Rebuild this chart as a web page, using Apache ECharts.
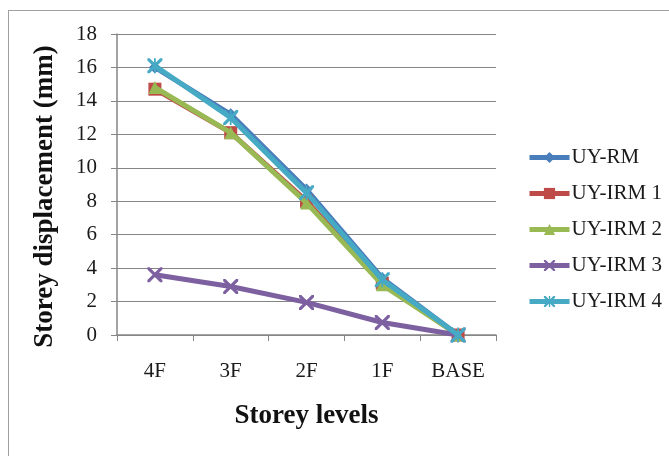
<!DOCTYPE html>
<html><head><meta charset="utf-8">
<script src="https://cdn.jsdelivr.net/npm/echarts@6/dist/echarts.min.js"></script>
<style>html,body{margin:0;padding:0;background:#fff}#c{width:669px;height:456px}
#frame{position:absolute;left:8px;top:10px;width:700px;height:500px;border:1px solid #a0a0a0;pointer-events:none}</style>
</head><body>
<div id="c"></div><div id="frame"></div>
<script>
const categories = ['4F', '3F', '2F', '1F', 'BASE'];
const seriesNames = ['UY-RM', 'UY-IRM 1', 'UY-IRM 2', 'UY-IRM 3', 'UY-IRM 4'];
const uyRM   = [16.0, 13.2, 8.7, 3.4, 0];
const uyIRM1 = [14.7, 12.1, 8.0, 3.1, 0];
const uyIRM2 = [14.8, 12.1, 7.9, 3.0, 0];
const uyIRM3 = [3.6, 2.9, 1.95, 0.75, 0];
const uyIRM4 = [16.1, 13.0, 8.5, 3.3, 0];
const yTicks = [0, 2, 4, 6, 8, 10, 12, 14, 16, 18];

const colors = ['#4A7EBB', '#BE4B48', '#98B954', '#7D60A0', '#46AAC5'];
const xPath = 'path://M0,0 L1.5,0 L5,3.5 L8.5,0 L10,0 L10,1.5 L6.5,5 L10,8.5 L10,10 L8.5,10 L5,6.5 L1.5,10 L0,10 L0,8.5 L3.5,5 L0,1.5 Z';
const starPath = 'path://M0,0 L1.5,0 L4.4,2.9 L4.4,0 L5.6,0 L5.6,2.9 L8.5,0 L10,0 L10,1.5 L6.5,5 L10,8.5 L10,10 L8.5,10 L5.6,7.1 L5.6,10 L4.4,10 L4.4,7.1 L1.5,10 L0,10 L0,8.5 L3.5,5 L0,1.5 Z';
const symbols = ['diamond', 'rect', 'triangle', xPath, starPath];
const sizes = [12, 13, 13, 15, 15];
const data = [uyRM, uyIRM1, uyIRM2, uyIRM3, uyIRM4];
const font = '"Liberation Serif", "Times New Roman", serif';

const chart = echarts.init(document.getElementById('c'));
chart.setOption({
  animation: false,
  color: colors,
  grid: { left: 117, right: 173, top: 34, bottom: 121 },
  legend: {
    orient: 'vertical', left: 522, top: 142, itemGap: 15,
    itemWidth: 40, itemHeight: 14,
    lineStyle: { width: 5 },
    textStyle: { fontFamily: font, fontSize: 21, color: '#1a1a1a', padding: [0, 0, 0, -3] },
    data: seriesNames
  },
  xAxis: {
    type: 'category', data: categories, boundaryGap: true,
    axisLine: { lineStyle: { color: '#868686', width: 1.5 } },
    axisTick: { show: true, length: 6, lineStyle: { color: '#868686' } },
    axisLabel: { fontFamily: font, fontSize: 21, color: '#1a1a1a', margin: 26 },
    name: 'Storey levels', nameLocation: 'middle', nameGap: 68,
    nameTextStyle: { fontFamily: font, fontSize: 27, fontWeight: 'bold', color: '#111' }
  },
  yAxis: {
    type: 'value', min: 0, max: 18, interval: 2,
    axisLine: { show: true, lineStyle: { color: '#868686', width: 1.5 } },
    axisTick: { show: true, length: 6, lineStyle: { color: '#868686' } },
    splitLine: { lineStyle: { color: '#868686', width: 1.2 } },
    axisLabel: { fontFamily: font, fontSize: 21, color: '#1a1a1a', margin: 20,
      formatter: v => yTicks.includes(v) ? String(v) : '' },
    name: 'Storey displacement (mm)', nameLocation: 'middle', nameGap: 58,
    nameTextStyle: { fontFamily: font, fontSize: 27, fontWeight: 'bold', color: '#111', padding: [0, 24, 0, 0] }
  },
  series: seriesNames.map((n, i) => ({
    name: n, type: 'line', data: data[i],
    symbol: symbols[i], symbolSize: sizes[i], showAllSymbol: true,
    lineStyle: { width: 5, color: colors[i] },
    itemStyle: { color: colors[i] },
    z: 2 + i
  }))
});
</script>
</body></html>
